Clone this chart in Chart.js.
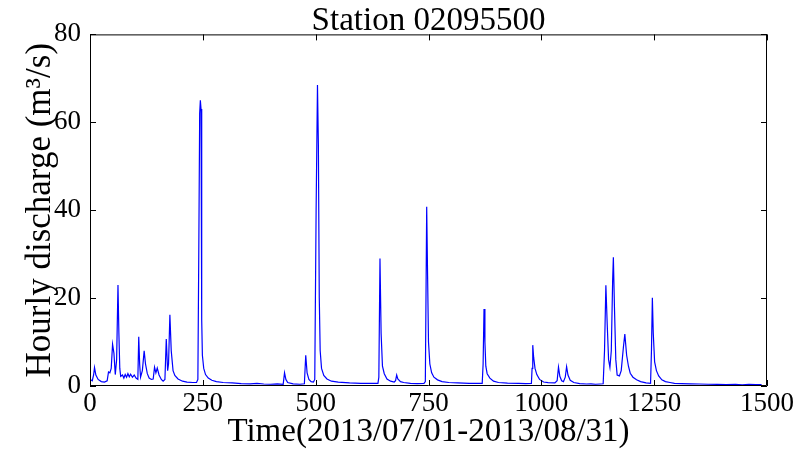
<!DOCTYPE html>
<html>
<head>
<meta charset="utf-8">
<title>Station 02095500</title>
<script src="https://cdn.jsdelivr.net/npm/chart.js@4/dist/chart.umd.min.js"></script>
<style>
  html, body { margin: 0; padding: 0; background: #fff; }
  #wrap { width: 797px; height: 452px; }
</style>
</head>
<body>
<div id="wrap"><canvas id="chart" width="797" height="452"></canvas></div>
<script>
// Hour index since 2013/07/01 00:00 and hourly discharge (m3/s)
const hours = [
  0, 5, 8, 10, 13, 18, 25, 32, 38, 41, 44, 47, 50, 53, 56, 59, 62, 64, 66, 68,
  72, 75, 78, 81, 84, 87, 90, 94, 98, 102, 106, 108, 110, 112, 116, 120, 123, 127, 131, 136,
  140, 143, 146, 149, 153, 158, 162, 166, 169, 172, 174, 177, 180, 184, 188, 195, 205, 215, 228, 236,
  239, 241, 243, 244.5, 246, 247.5, 249, 252, 256, 262, 270, 280, 295, 315, 335, 355, 370, 385, 400, 415,
  428, 431, 434, 438, 450, 465, 475, 478, 481, 485, 490, 495, 498, 501, 504, 506, 508, 510, 513, 518,
  525, 535, 550, 575, 600, 620, 638, 640, 642.5, 645, 648, 652, 658, 666, 674, 677, 679.5, 682, 688, 695,
  710, 725, 740, 743, 746, 748, 750, 753, 757, 762, 770, 780, 795, 815, 840, 860, 869, 871, 873, 875,
  877, 880, 886, 894, 905, 925, 950, 965, 978, 979.5, 981, 983, 986, 990, 996, 1005, 1015, 1030, 1035, 1038,
  1041, 1045, 1049, 1053, 1056, 1059, 1064, 1072, 1085, 1100, 1110, 1120, 1130, 1137, 1140, 1143, 1146, 1149, 1152, 1155,
  1158, 1159.6, 1162, 1165, 1168, 1173, 1177, 1182, 1185, 1189, 1193, 1197, 1203, 1211, 1220, 1232, 1242, 1244, 1246, 1248,
  1251, 1255, 1260, 1267, 1275, 1285, 1295, 1310, 1330, 1350, 1370, 1390, 1410, 1430, 1445, 1460, 1475, 1488
];
const discharge = [
  1.5, 1.2, 2.5, 4.2, 2.5, 1.5, 1.0, 0.9, 1.2, 3.2, 3.0, 4.0, 9.5, 7.5, 2.6, 6.0, 23.0, 12.0, 4.0, 2.2,
  2.5, 1.8, 2.6, 2.0, 2.8, 2.1, 2.7, 2.0, 2.5, 1.8, 1.5, 11.2, 5.0, 2.0, 3.5, 8.0, 5.0, 2.8, 1.8, 1.5,
  1.6, 4.3, 3.0, 4.1, 2.5, 1.5, 1.1, 1.5, 10.7, 3.5, 5.0, 16.2, 8.0, 3.5, 2.4, 1.6, 1.1, 0.9, 0.8, 0.8,
  1.5, 30, 62, 65, 63, 15, 7.0, 4.0, 2.6, 1.8, 1.3, 1.0, 0.8, 0.7, 0.55, 0.5, 0.6, 0.45, 0.4, 0.5,
  0.4, 3.0, 1.5, 0.8, 0.5, 0.4, 0.5, 7.0, 3.0, 1.5, 1.0, 0.9, 1.5, 40, 68.5, 55, 20, 8.0, 4.0, 2.4,
  1.6, 1.1, 0.9, 0.7, 0.6, 0.6, 0.6, 2.0, 29, 12, 4.5, 2.8, 1.6, 1.1, 0.9, 1.2, 2.5, 1.6, 1.0, 0.8,
  0.6, 0.55, 0.6, 1.0, 40.8, 25, 10, 5.0, 3.0, 2.0, 1.4, 1.0, 0.8, 0.7, 0.6, 0.6, 0.6, 5, 17.5, 10,
  4.5, 2.8, 1.8, 1.1, 0.8, 0.65, 0.6, 0.55, 0.6, 4, 9.3, 6.5, 4.0, 2.6, 1.5, 0.9, 0.75, 0.7, 1.2, 4.3,
  2.2, 1.2, 1.0, 2.0, 4.4, 2.5, 1.3, 0.8, 0.55, 0.45, 0.5, 0.4, 0.45, 0.5, 8, 22.9, 14, 6.0, 4.2, 8.0,
  24, 29.3, 18, 6.0, 2.5, 2.3, 3.5, 9.0, 11.8, 7.0, 4.5, 2.9, 2.0, 1.4, 1.0, 0.7, 0.6, 8, 20.1, 12,
  5.5, 3.5, 2.3, 1.4, 1.0, 0.8, 0.6, 0.55, 0.5, 0.45, 0.4, 0.35, 0.3, 0.35, 0.25, 0.35, 0.3, 0.3
];
const xTicks = [0, 250, 500, 750, 1000, 1250, 1500];
const yTicks = [0, 20, 40, 60, 80];

const serif = '"Liberation Serif", "Times New Roman", serif';

// MATLAB-style box: frame on all four sides with inward tick marks
const boxFrame = {
  id: 'boxFrame',
  afterDatasetsDraw(chart) {
    const { ctx, chartArea: a, scales } = chart;
    const len = 6;
    ctx.save();
    ctx.strokeStyle = '#000';
    ctx.lineWidth = 1;
    ctx.beginPath();
    ctx.rect(a.left + 0.5, a.top + 0.5, a.right - a.left - 1, a.bottom - a.top - 1);
    xTicks.forEach(v => {
      const px = Math.round(scales.x.getPixelForValue(v)) + 0.5;
      ctx.moveTo(px, a.bottom); ctx.lineTo(px, a.bottom - len);
      ctx.moveTo(px, a.top); ctx.lineTo(px, a.top + len);
    });
    yTicks.forEach(v => {
      const py = Math.round(scales.y.getPixelForValue(v)) + 0.5;
      ctx.moveTo(a.left, py); ctx.lineTo(a.left + len, py);
      ctx.moveTo(a.right, py); ctx.lineTo(a.right - len, py);
    });
    ctx.stroke();
    ctx.restore();
  }
};

const ctx = document.getElementById('chart').getContext('2d');
new Chart(ctx, {
  type: 'line',
  data: {
    datasets: [{
      data: hours.map((h, i) => ({ x: h, y: discharge[i] })),
      borderColor: '#0000ff',
      borderWidth: 1.2,
      pointRadius: 0,
      tension: 0,
      fill: false
    }]
  },
  options: {
    responsive: false,
    animation: false,
    devicePixelRatio: 1,
    layout: { padding: { left: 0, right: 30, top: 0, bottom: 0 } },
    plugins: {
      legend: { display: false },
      tooltip: { enabled: false },
      title: {
        display: true,
        fullSize: false,
        text: 'Station 02095500',
        color: '#000',
        font: { family: serif, size: 33, weight: 'normal', lineHeight: 0.8 },
        padding: { top: 8, bottom: 0 }
      }
    },
    scales: {
      x: {
        type: 'linear',
        min: 0,
        max: 1500,
        afterBuildTicks: s => { s.ticks = xTicks.map(v => ({ value: v })); },
        afterFit: s => { s.height = 66; },
        grid: { display: false },
        border: { display: false },
        ticks: {
          color: '#000',
          padding: -6,
          maxRotation: 0,
          font: { family: serif, size: 27 },
          callback: v => String(v)
        },
        title: {
          display: true,
          text: 'Time(2013/07/01-2013/08/31)',
          color: '#000',
          font: { family: serif, size: 33 },
          padding: { top: 0, bottom: 0 }
        }
      },
      y: {
        min: 0,
        max: 80,
        afterBuildTicks: s => { s.ticks = yTicks.map(v => ({ value: v })); },
        afterFit: s => { s.width = 90; },
        grid: { display: false },
        border: { display: false },
        ticks: { color: '#000', padding: 1, font: { family: serif, size: 27 } },
        title: {
          display: true,
          text: 'Hourly discharge (m³/s)',
          color: '#000',
          font: { family: serif, size: 35 },
          padding: { top: 20, bottom: 0 }
        }
      }
    }
  },
  plugins: [boxFrame]
});
</script>
</body>
</html>
